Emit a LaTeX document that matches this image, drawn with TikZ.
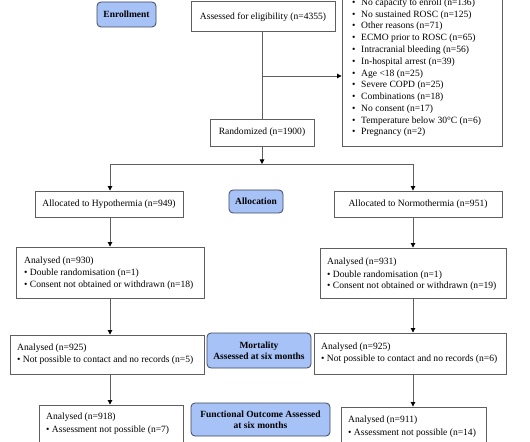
\documentclass[tikz,border=0pt]{standalone}
\usepackage{fontspec}
\setmainfont{Liberation Serif}
\usetikzlibrary{arrows.meta}
\definecolor{boxline}{RGB}{95,95,95}
\definecolor{bluefill}{RGB}{166,194,246}
\definecolor{blueline}{RGB}{60,72,95}
\begin{document}
\begin{tikzpicture}[x=1bp,y=-1bp,
  every node/.style={font=\fontsize{9.6}{11.8}\selectfont},
  box/.style={draw=boxline, line width=0.9bp, fill=white, inner sep=0pt},
  phase/.style={draw=blueline, line width=0.8bp, fill=bluefill, rounded corners=4bp, inner sep=0pt, align=center, font=\bfseries\fontsize{9.5}{11}\selectfont},
  txt/.style={anchor=mid west, inner sep=0pt},
  conn/.style={draw=boxline, line width=0.9bp},
  arr/.style={conn, -{Triangle[length=4.5bp,width=4.5bp,black]}}]
\useasboundingbox (0,0) rectangle (530,442);
\clip (0,0) rectangle (530,442);
\fill[white] (0,0) rectangle (530,442);

% phase labels
\node[phase, minimum width=59bp, minimum height=25bp] (enr) at (126.5,14.5) {Enrollment};
\node[phase, minimum width=54bp, minimum height=23bp] (alc) at (256,201.5) {Allocation};
\node[phase, minimum width=104bp, minimum height=35bp] (mort) at (259,350.5) {Mortality\\Assessed at six months};
\node[phase, minimum width=139bp, minimum height=33bp] (func) at (260.5,419.5) {Functional Outcome Assessed\\at six months};

% boxes
\node[box, minimum width=144bp, minimum height=30bp] (ass) at (263,16.7) {Assessed for eligibility (n=4355)};
\node[box, minimum width=160bp, minimum height=176bp] (exc) at (422,58) {};
\node[box, minimum width=104bp, minimum height=27bp] (rnd) at (262,132.5) {Randomized (n=1900)};
\node[box, minimum width=148bp, minimum height=26bp] (hyp) at (109,204) {Allocated to Hypothermia (n=949)};
\node[box, minimum width=168bp, minimum height=26bp] (nor) at (418,204) {Allocated to Normothermia (n=951)};
\node[box, minimum width=188bp, minimum height=51bp] (a930) at (110,272.5) {};
\node[box, minimum width=186bp, minimum height=50bp] (a931) at (413,273) {};
\node[box, minimum width=194bp, minimum height=39bp] (l925) at (107,354.5) {};
\node[box, minimum width=192bp, minimum height=41bp] (r925) at (410,353.5) {};
\node[box, minimum width=144bp, minimum height=65bp] (a918) at (111,437.5) {};
\node[box, minimum width=145bp, minimum height=63bp] (a911) at (413.5,438.5) {};

% exclusion list
\foreach \t [count=\i from 0] in {No capacity to enroll (n=136), No sustained ROSC (n=125), Other reasons (n=71), ECMO prior to ROSC (n=65), Intracranial bleeding (n=56), In-hospital arrest (n=39), Age <18 (n=25), Severe COPD (n=25), Combinations (n=18), No consent (n=17), Temperature below 30°C (n=6), Pregnancy (n=2)}
  \node[txt] (ex\i) at (352,3+\i*11.79) {\makebox[9bp][l]{•}\t};

% box texts
\node[txt] (t930a) at (24,261.7) {Analysed (n=930)};
\node[txt] (t930b) at (24,273.5) {• Double randomisation (n=1)};
\node[txt] (t930c) at (24,285.7) {• Consent not obtained or withdrawn (n=18)};
\node[txt] (t931a) at (327,262.7) {Analysed (n=931)};
\node[txt] (t931b) at (327,275) {• Double randomisation (n=1)};
\node[txt] (t931c) at (327,286.7) {• Consent not obtained or withdrawn (n=19)};
\node[txt] (tl925a) at (17,348.3) {Analysed (n=925)};
\node[txt] (tl925b) at (17,360) {• Not possible to contact and no records (n=5)};
\node[txt] (tr925a) at (321,347.3) {Analysed (n=925)};
\node[txt] (tr925b) at (321,359) {• Not possible to contact and no records (n=6)};
\node[txt] (t918a) at (46,417.7) {Analysed (n=918)};
\node[txt] (t918b) at (46,430.7) {• Assessment not possible (n=7)};
\node[txt] (t911a) at (348,420.7) {Analysed (n=911)};
\node[txt] (t911b) at (348,433.3) {• Assessment not possible (n=14)};

% connectors
\coordinate (cL) at (110,0);
\coordinate (cR) at (413,0);
\coordinate (br) at (262,76);
\coordinate (j) at (262,164);
\draw[conn] (rnd.north |- ass.south) -- (rnd.north);
\draw[arr] (br) -- (br -| exc.west);
\draw[arr] (rnd.south) -- (j);
\draw[arr] (j) -| (cL |- hyp.north);
\draw[arr] (j) -| (cR |- nor.north);
\draw[arr] (cL |- hyp.south) -- (cL |- a930.north);
\draw[arr] (cR |- nor.south) -- (cR |- a931.north);
\draw[arr] (cL |- a930.south) -- (cL |- l925.north);
\draw[arr] (cR |- a931.south) -- (cR |- r925.north);
\draw[arr] (cL |- l925.south) -- (cL |- a918.north);
\draw[arr] (cR |- r925.south) -- (cR |- a911.north);
\end{tikzpicture}
\end{document}
